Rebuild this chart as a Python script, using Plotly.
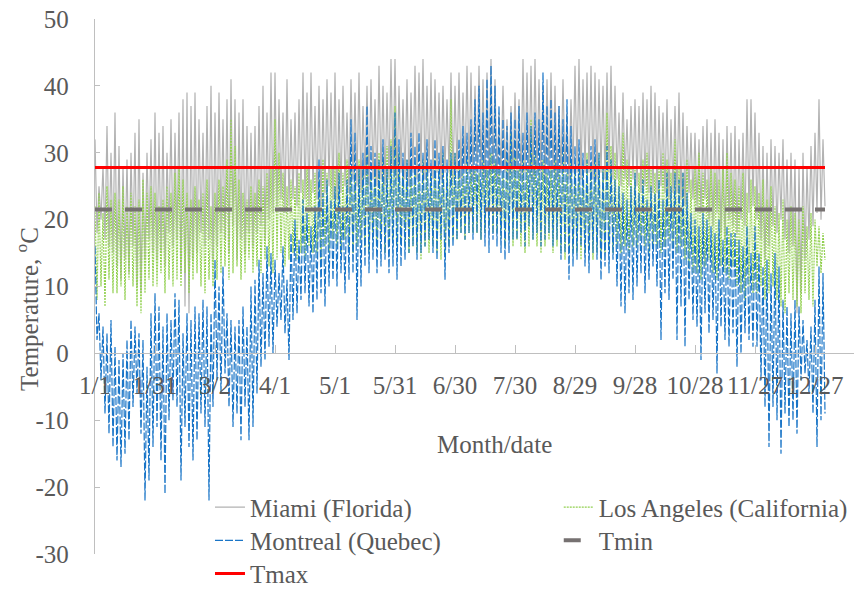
import plotly.graph_objects as go

# Daily high/low readings (alternating high, low) per day
miami = [
    32,18,25,20,28,17,34,16,30,15,
    36,13,31,11,28,14,29,12,30,16,
    33,10,35,9,27,14,30,17,32,15,
    36,14,33,15,34,13,30,18,35,16,
    33,17,36,12,38,7,39,6,37,14,
    39,15,35,18,33,16,37,17,40,14,
    36,16,39,18,35,17,38,15,41,19,
    38,14,36,17,38,15,34,18,33,16,
    34,18,37,19,40,17,36,20,42,21,
    42,22,38,23,36,21,41,22,35,23,
    36,22,38,24,42,23,39,22,42,24,
    37,23,40,22,38,24,41,25,39,23,
    42,23,38,24,40,25,36,24,41,26,
    39,25,42,24,37,26,40,25,41,26,
    38,25,43,26,40,25,39,26,44,27,
    44,26,40,27,38,26,41,25,39,27,
    43,26,42,27,44,26,40,27,42,26,
    41,27,39,26,40,27,38,27,42,26,
    40,27,42,26,39,27,43,27,42,26,
    40,27,43,27,41,26,42,27,44,27,
    41,26,36,27,40,27,35,26,37,27,
    39,27,38,26,44,27,42,27,43,26,
    44,27,41,27,40,26,41,27,42,27,
    40,26,37,27,41,27,36,26,38,27,
    43,27,44,26,41,27,42,27,43,26,
    42,26,41,27,40,26,42,27,43,26,
    40,26,36,25,39,26,35,25,37,26,
    38,25,37,24,39,25,38,24,40,24,
    39,24,37,25,36,24,38,23,35,24,
    37,24,39,23,36,22,34,24,33,23,
    33,22,32,21,34,23,35,20,33,19,
    35,21,33,18,32,17,34,20,33,19,
    34,18,32,20,33,19,38,21,38,22,
    36,20,33,17,31,14,30,16,32,19,
    31,18,30,20,32,17,29,15,30,16,
    29,6,28,9,30,14,28,17,31,19,
    33,21,38,20,32,22,
]

los_angeles = [
    22,8,24,10,21,7,25,11,23,9,
    24,9,23,10,25,8,22,11,24,10,
    22,7,23,6,26,9,24,11,25,10,
    24,10,22,12,23,9,25,11,24,10,
    27,11,28,10,26,12,24,9,23,11,
    25,12,23,10,24,9,26,11,22,10,
    24,11,26,12,25,13,29,11,35,12,
    31,13,26,11,24,12,23,14,25,12,
    24,13,26,12,25,14,27,13,28,12,
    35,14,30,15,27,13,25,14,26,15,
    25,14,27,15,26,14,28,16,26,15,
    27,15,26,14,29,16,27,15,28,17,
    28,16,30,15,27,17,29,16,28,15,
    27,16,29,17,28,16,30,15,27,17,
    28,16,30,17,29,15,31,16,32,17,
    37,16,30,17,28,16,29,15,27,16,
    28,15,27,14,29,16,28,15,27,16,
    29,15,28,14,30,15,27,16,38,17,
    30,17,28,18,27,17,29,18,28,18,
    28,18,27,17,29,18,28,19,30,18,
    29,18,28,17,27,16,29,17,33,16,
    30,17,28,16,29,15,28,16,35,17,
    30,16,28,15,29,16,27,17,28,15,
    29,16,28,15,30,14,27,16,29,15,
    28,15,29,14,27,15,30,16,28,14,
    29,15,30,14,28,15,36,16,31,15,
    30,16,28,15,33,16,29,15,28,16,
    28,16,27,17,29,16,30,15,28,16,
    27,16,28,15,30,16,29,17,27,16,
    32,15,28,16,27,14,29,13,26,12,
    28,12,30,11,27,13,26,14,28,12,
    27,11,26,13,28,12,30,11,27,13,
    26,10,25,9,27,8,24,10,26,9,
    25,9,24,10,26,8,23,9,25,10,
    22,8,21,7,23,6,20,9,22,8,
    21,7,20,6,22,9,19,8,21,7,
    20,13,19,12,18,14,
]

montreal = [
    16,2,6,-4,4,-9,3,-12,5,-14,
    1,-16,-1,-17,0,-15,2,-13,5,-8,
    4,-6,3,-12,2,-22,-2,-19,6,-14,
    9,-11,7,-16,4,-21,6,-10,5,-7,
    9,-8,8,-19,3,-11,6,-14,5,-16,
    7,-13,6,-9,8,-11,7,-22,6,-8,
    14,-4,10,-6,13,-3,6,-8,5,-11,
    4,-9,5,-13,7,-8,4,-13,10,-11,
    11,-6,14,-2,12,-1,16,1,15,0,
    14,4,12,5,16,3,11,-1,18,5,
    20,6,17,8,23,9,21,7,19,6,
    22,8,29,9,24,7,26,10,23,11,
    25,10,27,12,22,9,26,11,35,12,
    33,5,28,10,30,13,37,12,31,14,
    30,12,29,13,32,14,28,12,31,13,
    36,11,32,13,30,14,29,15,33,16,
    31,14,33,15,30,16,32,17,29,15,
    32,14,30,17,31,11,29,15,30,16,
    30,17,32,18,34,17,33,18,35,17,
    38,18,40,17,36,16,41,15,43,17,
    40,16,37,15,35,14,34,15,36,17,
    35,17,37,18,33,16,36,19,34,17,
    36,18,35,16,42,17,37,18,38,16,
    36,17,37,14,35,15,38,11,34,13,
    31,14,32,16,30,13,29,12,31,15,
    32,14,30,11,28,13,31,12,29,14,
    26,10,25,7,24,6,23,9,25,8,
    27,10,24,12,26,9,23,11,25,13,
    24,10,26,2,23,9,27,8,25,11,
    27,2,26,7,27,1,24,8,21,5,
    20,4,19,-1,21,6,20,3,19,5,
    18,-3,20,4,17,2,19,1,18,3,
    18,-2,17,0,16,3,19,2,15,1,
    19,1,15,-4,13,-8,14,-14,12,-8,
    15,-10,13,-15,8,-9,7,-11,6,-10,
    8,-12,7,-4,5,-3,2,-6,4,-9,
    8,-14,13,-10,12,-9,
]

t_max = 27.8
t_min = 21.5

tick_days = [0, 30, 60, 90, 120, 150, 180, 210, 240, 270, 300, 330, 360]
tick_labels = ["1/1", "1/31", "3/2", "4/1", "5/1", "5/31", "6/30",
               "7/30", "8/29", "9/28", "10/28", "11/27", "12/27"]
y_ticks = [-30, -20, -10, 0, 10, 20, 30, 40, 50]
y_tick_labels = ["-30", "-20", "-10", "0", "10", "20", "30", "40", "50"]

days = list(range(len(miami)))

FONT = "Liberation Serif"
FS = 25
TXT = "#595959"
AX = "#bfbfbf"

fig = go.Figure()
fig.add_trace(go.Scatter(x=days, y=miami, mode="lines", name="Miami (Florida)",
                         line=dict(color="rgb(178,178,178)", width=1.2),
                         legend="legend"))
fig.add_trace(go.Scatter(x=days, y=los_angeles, mode="lines", name="Los Angeles (California)",
                         line=dict(color="#92d050", width=1.2, dash="2px,1px"),
                         legend="legend2"))
fig.add_trace(go.Scatter(x=days, y=montreal, mode="lines", name="Montreal (Quebec)",
                         line=dict(color="#1a75c7", width=1.2, dash="8px,2px"),
                         legend="legend3"))
fig.add_trace(go.Scatter(x=[days[0], days[-1]], y=[t_min, t_min], mode="lines", name="Tmin",
                         line=dict(color="#767171", width=4, dash="17px,13px"),
                         legend="legend4"))
fig.add_trace(go.Scatter(x=[days[0], days[-1]], y=[t_max, t_max], mode="lines", name="Tmax",
                         line=dict(color="#ff0000", width=3),
                         legend="legend5"))

def leg(x, y):
    return dict(x=x, y=y, bgcolor="rgba(0,0,0,0)", borderwidth=0, xanchor="left",
                yanchor="top", orientation="v", font=dict(family=FONT, size=FS, color=TXT))

fig.update_layout(
    width=864, height=591,
    font=dict(family=FONT, size=FS, color=TXT),
    margin=dict(l=95, r=10, t=19, b=37, autoexpand=False),
    paper_bgcolor="white", plot_bgcolor="white",
    showlegend=True,
    legend=leg(0.1515, 0.130),
    legend2=leg(0.611, 0.130),
    legend3=leg(0.1515, 0.068),
    legend4=leg(0.611, 0.068),
    legend5=leg(0.1515, 0.006),
    xaxis=dict(range=[0, 379.5], tickmode="array", tickvals=tick_days, ticktext=tick_labels,
               showline=True, linecolor=AX, linewidth=1.3, ticks="inside", ticklen=8,
               tickcolor=AX, tickwidth=1.3, showgrid=False, zeroline=False,
               anchor="free", position=0.375, ticklabelstandoff=9,
               tickfont=dict(family=FONT, size=FS, color=TXT)),
    yaxis=dict(range=[-30, 50], tickmode="array", tickvals=y_ticks, ticktext=y_tick_labels,
               showline=True, linecolor=AX, linewidth=1.3,
               ticks="inside", ticklen=5, tickcolor=AX, tickwidth=1.3, showgrid=False,
               zeroline=False, ticklabelstandoff=20,
               tickfont=dict(family=FONT, size=FS, color=TXT)),
    annotations=[
        dict(text="Month/date", xref="paper", yref="paper", x=0.5257, y=0.2056,
             xanchor="center", yanchor="middle", showarrow=False,
             font=dict(family=FONT, size=FS, color=TXT)),
        dict(text="Temperature, <sup>o</sup>C", xref="paper", yref="paper", x=-0.0896, y=0.458,
             xanchor="center", yanchor="middle", showarrow=False, textangle=-90,
             font=dict(family=FONT, size=FS, color=TXT)),
    ],
)

fig.write_html("out.html")
